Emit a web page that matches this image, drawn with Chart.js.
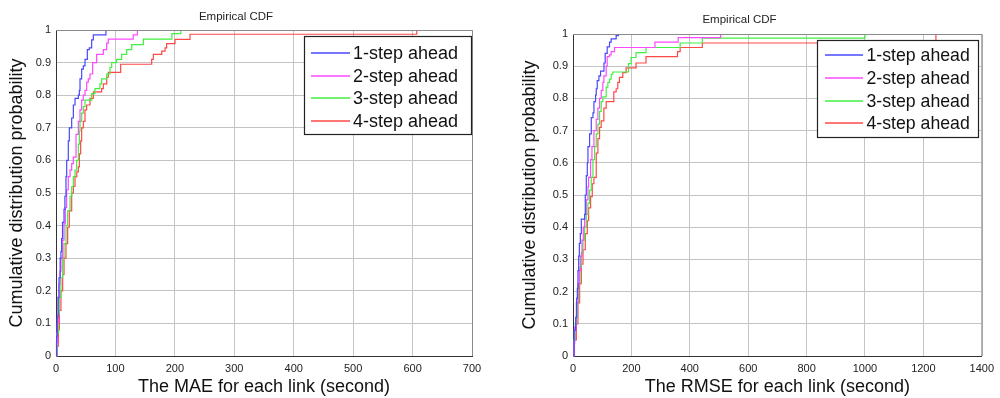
<!DOCTYPE html>
<html><head><meta charset="utf-8">
<script src="https://cdn.jsdelivr.net/npm/chart.js@4/dist/chart.umd.min.js"></script>
<style>
html,body{margin:0;padding:0;background:#fff;width:1000px;height:398px;overflow:hidden}
.w{position:absolute;top:0;height:398px}
</style></head><body>
<div class="w" style="left:0;width:490px"><canvas id="c1" width="490" height="398"></canvas></div>
<div class="w" style="left:495px;width:505px"><canvas id="c2" width="505" height="398"></canvas></div>
<script>
// ---------- data ----------
const seriesLabels = ['1-step ahead', '2-step ahead', '3-step ahead', '4-step ahead'];
const seriesColors = ['#4848ff', '#ff48ff', '#40f040', '#ff4848'];
const chartTitle = 'Empirical CDF';
const yAxisTitle = 'Cumulative distribution probability';
const maeAxisTitle = 'The MAE for each link (second)';
const rmseAxisTitle = 'The RMSE for each link (second)';
const probTicks = [0, 0.1, 0.2, 0.3, 0.4, 0.5, 0.6, 0.7, 0.8, 0.9, 1];
const probTickLabels = ['0', '0.1', '0.2', '0.3', '0.4', '0.5', '0.6', '0.7', '0.8', '0.9', '1'];
const maeTicks = [0, 100, 200, 300, 400, 500, 600, 700];
const maeTickLabels = ['0', '100', '200', '300', '400', '500', '600', '700'];
const rmseTicks = [0, 200, 400, 600, 800, 1000, 1200, 1400];
const rmseTickLabels = ['0', '200', '400', '600', '800', '1000', '1200', '1400'];

// MAE (left panel): sample values (x) and cumulative probabilities (p)
const mae1X = [0, 1, 2, 3.5, 5, 7, 8.3, 9.5, 11, 13.5, 15, 16.8, 18, 20.7, 22.4, 26.4, 29.2, 32, 37.6, 39.3, 40.4, 43.2, 46, 48.8, 52.7, 56, 60, 62.8, 84];
const mae1P = [0, 0.06, 0.12, 0.18, 0.24, 0.3, 0.32, 0.36, 0.41, 0.45, 0.49, 0.55, 0.6, 0.66, 0.7, 0.73, 0.77, 0.79, 0.8, 0.815, 0.85, 0.88, 0.89, 0.91, 0.94, 0.945, 0.97, 0.985, 1];
const mae2X = [0, 0.8, 2.2, 3.9, 5.2, 6.7, 8.4, 11.2, 13.5, 15.7, 17.9, 20.7, 23.6, 26.4, 29.2, 33.7, 37.6, 40.4, 43.2, 46, 48.8, 51.6, 54.4, 57.2, 61.7, 68.4, 79.6, 85.3, 88, 130, 137];
const mae2P = [0, 0.04, 0.1, 0.18, 0.22, 0.26, 0.3, 0.355, 0.405, 0.455, 0.51, 0.55, 0.57, 0.59, 0.61, 0.68, 0.72, 0.755, 0.785, 0.8, 0.815, 0.84, 0.85, 0.865, 0.9, 0.925, 0.94, 0.96, 0.972, 0.985, 1];
const mae3X = [0, 1.5, 3.9, 5.6, 8.3, 11.2, 13.5, 16.8, 19.6, 23.6, 26.4, 29.2, 32, 34.8, 37.6, 39.3, 40.4, 43.2, 46, 48.8, 60, 65.6, 74, 76.8, 85.3, 90.9, 93.7, 102, 110.5, 119, 127.4, 147, 195, 210];
const mae3P = [0, 0.07, 0.13, 0.18, 0.24, 0.3, 0.345, 0.4, 0.445, 0.49, 0.52, 0.55, 0.57, 0.6, 0.65, 0.69, 0.72, 0.745, 0.765, 0.785, 0.805, 0.82, 0.835, 0.85, 0.865, 0.885, 0.9, 0.91, 0.925, 0.94, 0.955, 0.972, 0.989, 1];
const mae4X = [0, 2, 3.9, 5.6, 8.3, 11.2, 13.5, 16.8, 19.6, 22.4, 26.4, 29.2, 32, 35, 37.6, 39.3, 41.5, 43.2, 46, 48.8, 51.6, 57.2, 62.8, 76.8, 79.6, 85.3, 88, 108.8, 161, 163.8, 178, 183.5, 186.2, 200.2, 225.5, 607];
const mae4P = [0, 0.03, 0.08, 0.14, 0.2, 0.25, 0.3, 0.345, 0.395, 0.445, 0.5, 0.52, 0.55, 0.565, 0.58, 0.62, 0.66, 0.7, 0.72, 0.755, 0.77, 0.79, 0.81, 0.82, 0.835, 0.855, 0.87, 0.895, 0.91, 0.925, 0.935, 0.945, 0.958, 0.971, 0.987, 1];

// RMSE (right panel)
const rmse1X = [0, 3.5, 9.2, 12.6, 14.9, 17, 19.4, 21.7, 25.1, 28.5, 40, 42.1, 45.5, 49, 51.2, 56.9, 62.6, 68.3, 71.7, 77.3, 79.6, 83, 88.7, 94.4, 106, 110.3, 117.1, 125.1, 130.7, 147.8, 155.7];
const rmse1P = [0, 0.08, 0.12, 0.18, 0.21, 0.265, 0.31, 0.35, 0.38, 0.425, 0.44, 0.5, 0.56, 0.6, 0.65, 0.69, 0.74, 0.755, 0.79, 0.81, 0.83, 0.855, 0.87, 0.885, 0.91, 0.94, 0.96, 0.975, 0.985, 0.995, 1];
const rmse2X = [0, 2.5, 5.8, 11.4, 17, 21.7, 25.1, 30.8, 35.3, 39.9, 45.5, 51.2, 53.5, 60.3, 64.9, 71.7, 79.6, 85.3, 91, 96.6, 102.3, 105.7, 113.7, 117.1, 125.1, 130.7, 142.1, 280.7, 360.2, 505.6];
const rmse2P = [0, 0.04, 0.09, 0.165, 0.225, 0.265, 0.31, 0.36, 0.4, 0.44, 0.485, 0.525, 0.555, 0.61, 0.65, 0.7, 0.735, 0.77, 0.8, 0.825, 0.85, 0.87, 0.9, 0.93, 0.935, 0.945, 0.958, 0.975, 0.989, 1];
const rmse3X = [0, 3, 7.9, 13.7, 19.4, 23.9, 28.5, 34.2, 39.9, 45.5, 51.2, 56.9, 62.6, 68.3, 73.9, 79.6, 85.3, 91, 96.6, 102.3, 113.7, 119.4, 125.1, 130.7, 136.4, 189.8, 198.9, 216, 250, 367, 443, 1000];
const rmse3P = [0, 0.05, 0.1, 0.165, 0.225, 0.275, 0.32, 0.36, 0.4, 0.44, 0.475, 0.515, 0.555, 0.61, 0.65, 0.69, 0.72, 0.76, 0.79, 0.805, 0.835, 0.85, 0.86, 0.875, 0.882, 0.908, 0.927, 0.942, 0.958, 0.972, 0.987, 1];
const rmse4X = [0, 5, 11.4, 17, 22.8, 28.5, 34.2, 42.1, 49, 53.5, 60.3, 66, 71.7, 79.6, 85.3, 91, 96.6, 105.7, 113.7, 139.8, 147.8, 153.4, 159.1, 170.5, 181.9, 216, 250, 358, 367, 443, 1243];
const rmse4P = [0, 0.05, 0.1, 0.165, 0.225, 0.285, 0.33, 0.38, 0.42, 0.46, 0.495, 0.535, 0.555, 0.63, 0.675, 0.71, 0.73, 0.77, 0.79, 0.82, 0.83, 0.85, 0.865, 0.88, 0.895, 0.91, 0.93, 0.945, 0.958, 0.972, 1];

// ---------- chart ----------
const FONT = '"Liberation Sans", Arial, Helvetica, sans-serif';

const framePlugin = {
  id: 'boxLegend',
  afterDraw(chart) {
    const o = chart.options.plugins.boxLegend;
    const ctx = chart.ctx;
    const a = chart.chartArea;
    ctx.save();
    // top and right frame
    ctx.strokeStyle = '#8a8a8a';
    ctx.lineWidth = 1;
    ctx.beginPath();
    ctx.moveTo(a.left, a.top + 0.5);
    ctx.lineTo(a.right + 0.5, a.top + 0.5);
    ctx.lineTo(a.right + 0.5, a.bottom);
    ctx.stroke();
    // legend box
    const [l, t, r, b] = o.box;
    ctx.fillStyle = '#fff';
    ctx.fillRect(l, t, r - l, b - t);
    ctx.strokeStyle = '#222';
    ctx.lineWidth = 1.2;
    ctx.strokeRect(l + 0.5, t + 0.5, r - l, b - t);
    ctx.font = o.fontSize + 'px ' + FONT;
    ctx.textBaseline = 'middle';
    ctx.textAlign = 'left';
    chart.data.datasets.forEach((ds, i) => {
      const y = Math.round(o.rows[i]);
      ctx.strokeStyle = ds.borderColor;
      ctx.lineWidth = 1.5;
      ctx.beginPath();
      ctx.moveTo(o.lineX[0], y);
      ctx.lineTo(o.lineX[1], y);
      ctx.stroke();
      ctx.fillStyle = '#111';
      ctx.fillText(ds.label, o.textX, y + 1);
    });
    ctx.restore();
  }
};

function makeDatasets(xsList, psList) {
  return xsList.map((xs, k) => ({
    label: seriesLabels[k],
    data: xs.map((x, i) => ({ x: x, y: psList[k][i] })),
    borderColor: seriesColors[k],
    backgroundColor: seriesColors[k],
    borderWidth: 1.2,
    pointRadius: 0,
    fill: false,
    stepped: 'before',
    clip: 4
  }));
}

function makeChart(id, cfg) {
  return new Chart(document.getElementById(id), {
    type: 'line',
    data: { datasets: makeDatasets(cfg.xs, cfg.ps) },
    plugins: [framePlugin],
    options: {
      responsive: false,
      animation: false,
      events: [],
      layout: { padding: { left: 0, right: cfg.padRight, top: 0, bottom: 0 } },
      plugins: {
        legend: { display: false },
        tooltip: { enabled: false },
        title: {
          display: true, text: chartTitle, color: '#222',
          font: { family: FONT, size: 11.5, weight: 'normal', lineHeight: 1.2 },
          padding: { top: cfg.titleTop, bottom: cfg.titleBottom }
        },
        boxLegend: cfg.legend
      },
      scales: {
        x: {
          type: 'linear', min: 0, max: cfg.xMax,
          afterBuildTicks: s => { s.ticks = cfg.xTicks.map(v => ({ value: v })); },
          afterFit: s => { s.height = 42; },
          ticks: { font: { family: FONT, size: 11 }, color: '#222', padding: 6, maxRotation: 0, autoSkip: false,
            callback: (v, i) => cfg.xTickLabels[i] },
          grid: { color: '#c4c4c4', lineWidth: 1, drawTicks: false },
          border: { color: '#333', width: 1 },
          title: { display: true, text: cfg.xTitle, color: '#111',
            font: { family: FONT, size: 18, lineHeight: 1 }, padding: { top: 0, bottom: 1.5 } }
        },
        y: {
          type: 'linear', min: 0, max: 1,
          afterBuildTicks: s => { s.ticks = probTicks.map(v => ({ value: v })); },
          afterFit: s => { s.width = cfg.yWidth; },
          ticks: { font: { family: FONT, size: 11 }, color: '#222', padding: 5,
            callback: (v, i) => probTickLabels[i] },
          grid: { color: '#c4c4c4', lineWidth: 1, drawTicks: false },
          border: { color: '#333', width: 1 },
          title: { display: true, text: yAxisTitle, color: '#111',
            font: { family: FONT, size: 18, lineHeight: 1 }, padding: { top: cfg.yTitlePad, bottom: 0 } }
        }
      }
    }
  });
}

makeChart('c1', {
  xs: [mae1X, mae2X, mae3X, mae4X], ps: [mae1P, mae2P, mae3P, mae4P],
  xMax: 700, xTicks: maeTicks, xTickLabels: maeTickLabels, xTitle: maeAxisTitle,
  padRight: 18, titleTop: 10, titleBottom: 6.2, yWidth: 56, yTitlePad: 8.5,
  legend: { box: [304, 36, 471, 134], lineX: [311, 350], textX: 353, rows: [52.7, 75.7, 98.3, 120.7], fontSize: 18 }
});
makeChart('c2', {
  xs: [rmse1X, rmse2X, rmse3X, rmse4X], ps: [rmse1P, rmse2P, rmse3P, rmse4P],
  xMax: 1400, xTicks: rmseTicks, xTickLabels: rmseTickLabels, xTitle: rmseAxisTitle,
  padRight: 16, titleTop: 13.2, titleBottom: 7, yWidth: 78, yTitlePad: 26,
  legend: { box: [322, 40, 483, 137], lineX: [330, 368], textX: 371.5, rows: [55, 78.3, 100.7, 123.3], fontSize: 17.7 }
});
</script>
</body></html>
